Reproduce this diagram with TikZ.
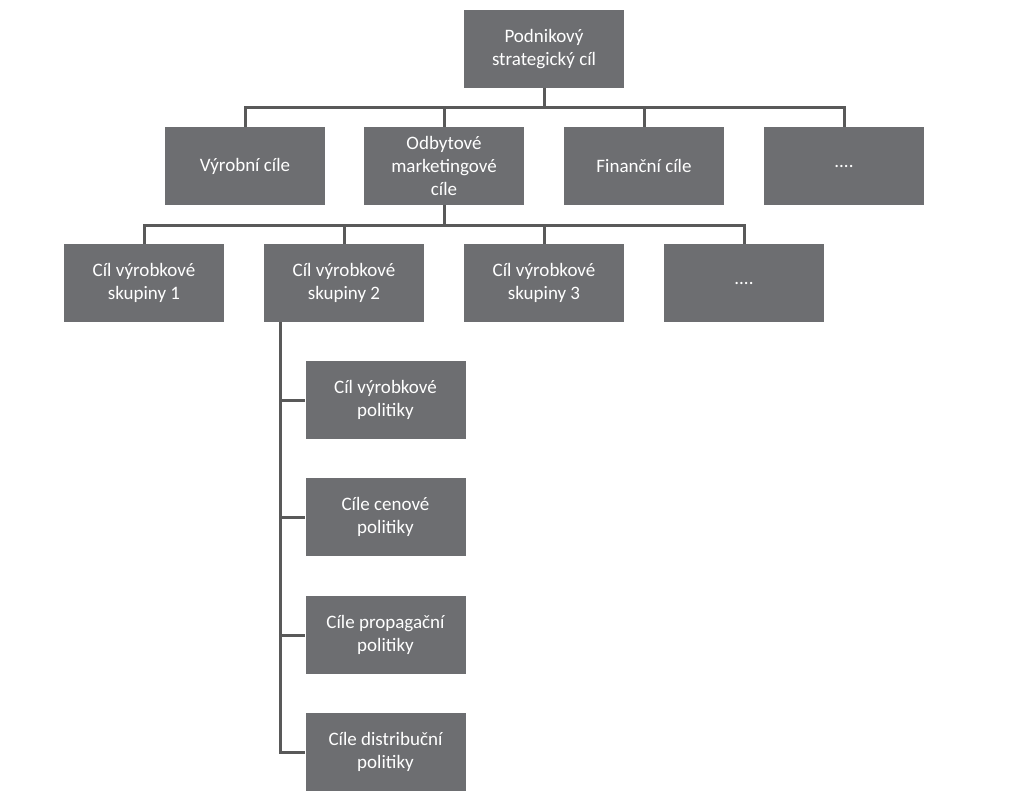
\documentclass[tikz,border=0pt]{standalone}
\usepackage{fontspec}
\setmainfont{Carlito}
\definecolor{boxc}{HTML}{6D6E71}
\definecolor{linec}{HTML}{595959}
\begin{document}
\begin{tikzpicture}[x=1pt,y=-1pt,
  gbox/.style={fill=boxc,draw=none,text=white,minimum width=160pt,minimum height=78pt,align=center,font=\fontsize{19}{23}\selectfont,inner sep=2pt},
  conn/.style={draw=linec,line width=3pt}]
\useasboundingbox (0,0) rectangle (1024,796);
\node[gbox] (top) at (544,49) {Podnikový\\strategický cíl};
\node[gbox] (a1) at (245,166) {Výrobní cíle};
\node[gbox] (a2) at (444,166) {Odbytové\\marketingové\\cíle};
\node[gbox] (a3) at (644,166) {Finanční cíle};
\node[gbox] (a4) at (844,166) {....};
\node[gbox] (b1) at (144,283) {Cíl výrobkové\\skupiny 1};
\node[gbox] (b2) at (344,283) {Cíl výrobkové\\skupiny 2};
\node[gbox] (b3) at (544,283) {Cíl výrobkové\\skupiny 3};
\node[gbox] (b4) at (744,283) {....};
\node[gbox] (c1) at (385.5,400) {Cíl výrobkové\\politiky};
\node[gbox] (c2) at (385.5,517) {Cíle cenové\\politiky};
\node[gbox] (c3) at (385.5,635) {Cíle propagační\\politiky};
\node[gbox] (c4) at (385.5,752) {Cíle distribuční\\politiky};
\coordinate (bus1) at (544,107);
\coordinate (bus2) at (444,225);
\draw[conn] (top.south) -- (bus1);
\draw[conn] (a1.north) |- (bus1) -| (a4.north);
\draw[conn] (a2.north) |- (bus1);
\draw[conn] (a3.north) |- (bus1);
\draw[conn] (a2.south) -- (bus2);
\draw[conn] (b1.north) |- (bus2) -| (b4.north);
\draw[conn] (b2.north) |- (bus2);
\draw[conn] (b3.north) |- (bus2);
\coordinate (v0) at (280,322);
\draw[conn] (v0) |- (c4.west);
\draw[conn] (v0) |- (c1.west);
\draw[conn] (v0) |- (c2.west);
\draw[conn] (v0) |- (c3.west);
\end{tikzpicture}
\end{document}
